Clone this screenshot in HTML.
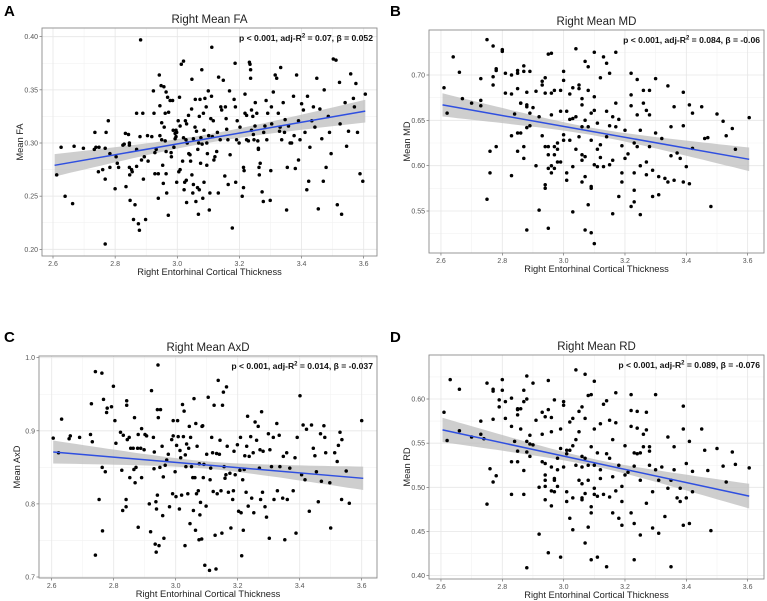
<!DOCTYPE html>
<html><head><meta charset="utf-8"><style>
body{margin:0;background:#fff}
svg{display:block;font-family:"Liberation Sans",Arial,sans-serif}
</style></head><body>
<svg id="fig" width="767" height="601" viewBox="0 0 767 601"></svg>
<script>
// ---------- data ----------
const xTicks = [2.6, 2.8, 3.0, 3.2, 3.4, 3.6];
const xTickLabels = ["2.6","2.8","3.0","3.2","3.4","3.6"];
const yTicksA = [0.20,0.25,0.30,0.35,0.40];
const yTickLabelsA = ["0.20","0.25","0.30","0.35","0.40"];
const yTicksB = [0.55,0.60,0.65,0.70];
const yTickLabelsB = ["0.55","0.60","0.65","0.70"];
const yTicksC = [0.7,0.8,0.9,1.0];
const yTickLabelsC = ["0.7","0.8","0.9","1.0"];
const yTicksD = [0.40,0.45,0.50,0.55,0.60];
const yTickLabelsD = ["0.40","0.45","0.50","0.55","0.60"];

const fitA = [0.279, 0.330]; const bandA = [0.0107, 0.004];
const fitB = [0.667, 0.607]; const bandB = [0.013, 0.004];
const fitC = [0.871, 0.835]; const bandC = [0.016, 0.005];
const fitD = [0.565, 0.490]; const bandD = [0.014, 0.004];

const ptsA = [[2.612,0.270],[2.626,0.296],[2.639,0.250],[2.663,0.243],[2.668,0.297],[2.698,0.295],[2.735,0.310],[2.733,0.294],[2.738,0.296],[2.748,0.296],[2.746,0.273],[2.760,0.275],[2.768,0.295],[2.771,0.310],[2.768,0.266],[2.768,0.205],[2.778,0.321],[2.783,0.290],[2.783,0.277],[2.800,0.257],[2.803,0.287],[2.807,0.281],[2.811,0.277],[2.825,0.298],[2.829,0.299],[2.833,0.309],[2.835,0.259],[2.843,0.308],[2.846,0.300],[2.846,0.298],[2.846,0.277],[2.847,0.270],[2.848,0.246],[2.853,0.275],[2.855,0.273],[2.859,0.228],[2.864,0.242],[2.869,0.328],[2.869,0.294],[2.869,0.278],[2.875,0.224],[2.878,0.218],[2.880,0.306],[2.882,0.397],[2.885,0.284],[2.889,0.328],[2.891,0.266],[2.894,0.287],[2.898,0.228],[2.904,0.307],[2.906,0.283],[2.918,0.306],[2.923,0.349],[2.925,0.328],[2.928,0.291],[2.932,0.294],[2.928,0.271],[2.939,0.271],[2.939,0.248],[2.942,0.364],[2.944,0.307],[2.944,0.335],[2.948,0.354],[2.950,0.319],[2.950,0.303],[2.953,0.279],[2.955,0.262],[2.957,0.353],[2.958,0.315],[2.961,0.328],[2.961,0.302],[2.964,0.271],[2.964,0.292],[2.964,0.348],[2.966,0.253],[2.969,0.343],[2.971,0.232],[2.972,0.329],[2.977,0.340],[2.980,0.291],[2.981,0.287],[2.985,0.340],[2.987,0.312],[2.989,0.296],[2.993,0.309],[2.993,0.304],[2.996,0.306],[2.996,0.312],[2.998,0.310],[2.998,0.263],[3.003,0.321],[3.005,0.273],[3.007,0.343],[3.009,0.275],[3.009,0.316],[3.013,0.374],[3.017,0.283],[3.020,0.377],[3.020,0.305],[3.022,0.256],[3.024,0.263],[3.026,0.321],[3.028,0.303],[3.029,0.265],[3.030,0.318],[3.030,0.244],[3.032,0.300],[3.036,0.326],[3.037,0.290],[3.041,0.289],[3.043,0.283],[3.046,0.332],[3.047,0.270],[3.047,0.360],[3.050,0.253],[3.052,0.261],[3.052,0.304],[3.057,0.315],[3.058,0.341],[3.060,0.245],[3.062,0.311],[3.065,0.258],[3.066,0.294],[3.068,0.233],[3.069,0.300],[3.071,0.325],[3.071,0.256],[3.073,0.341],[3.075,0.281],[3.076,0.305],[3.079,0.369],[3.080,0.299],[3.082,0.248],[3.084,0.328],[3.086,0.312],[3.086,0.263],[3.089,0.342],[3.093,0.334],[3.095,0.300],[3.095,0.279],[3.097,0.290],[3.100,0.349],[3.101,0.307],[3.103,0.237],[3.105,0.253],[3.108,0.323],[3.110,0.344],[3.111,0.390],[3.113,0.306],[3.116,0.321],[3.118,0.284],[3.121,0.287],[3.127,0.292],[3.129,0.310],[3.132,0.253],[3.133,0.362],[3.138,0.303],[3.140,0.334],[3.143,0.331],[3.148,0.359],[3.153,0.269],[3.155,0.334],[3.157,0.323],[3.159,0.313],[3.163,0.303],[3.164,0.261],[3.168,0.349],[3.170,0.289],[3.177,0.220],[3.183,0.341],[3.186,0.375],[3.187,0.334],[3.188,0.263],[3.191,0.303],[3.193,0.321],[3.199,0.300],[3.202,0.315],[3.209,0.250],[3.213,0.258],[3.213,0.277],[3.215,0.274],[3.218,0.328],[3.218,0.346],[3.223,0.326],[3.223,0.303],[3.229,0.302],[3.232,0.376],[3.234,0.374],[3.236,0.369],[3.236,0.361],[3.239,0.331],[3.239,0.312],[3.243,0.325],[3.245,0.308],[3.247,0.303],[3.250,0.316],[3.251,0.338],[3.256,0.328],[3.259,0.302],[3.261,0.295],[3.261,0.294],[3.263,0.277],[3.264,0.270],[3.267,0.281],[3.273,0.254],[3.277,0.245],[3.278,0.310],[3.282,0.316],[3.286,0.340],[3.288,0.303],[3.291,0.328],[3.299,0.246],[3.301,0.274],[3.303,0.334],[3.304,0.318],[3.309,0.348],[3.315,0.364],[3.320,0.361],[3.325,0.328],[3.329,0.311],[3.331,0.315],[3.333,0.371],[3.336,0.303],[3.341,0.338],[3.345,0.310],[3.347,0.322],[3.352,0.237],[3.354,0.277],[3.358,0.316],[3.363,0.300],[3.368,0.300],[3.374,0.344],[3.376,0.307],[3.380,0.276],[3.384,0.364],[3.390,0.284],[3.390,0.321],[3.395,0.303],[3.400,0.337],[3.406,0.331],[3.411,0.310],[3.417,0.256],[3.419,0.344],[3.423,0.264],[3.427,0.296],[3.433,0.321],[3.438,0.334],[3.443,0.315],[3.449,0.361],[3.454,0.238],[3.459,0.332],[3.465,0.304],[3.470,0.264],[3.473,0.350],[3.479,0.277],[3.486,0.325],[3.490,0.310],[3.495,0.290],[3.502,0.379],[3.511,0.378],[3.515,0.242],[3.522,0.357],[3.524,0.318],[3.529,0.233],[3.540,0.338],[3.545,0.297],[3.551,0.311],[3.558,0.365],[3.567,0.342],[3.570,0.334],[3.575,0.356],[3.580,0.310],[3.588,0.271],[3.597,0.264],[3.605,0.346]];

const ptsB = [[2.61,0.686],[2.62,0.658],[2.64,0.720],[2.66,0.703],[2.67,0.674],[2.70,0.669],[2.73,0.672],[2.73,0.696],[2.73,0.666],[2.75,0.739],[2.75,0.563],[2.76,0.616],[2.76,0.592],[2.77,0.732],[2.77,0.689],[2.77,0.698],[2.78,0.621],[2.78,0.707],[2.78,0.705],[2.80,0.726],[2.80,0.728],[2.81,0.702],[2.81,0.680],[2.83,0.679],[2.83,0.633],[2.83,0.589],[2.83,0.700],[2.84,0.657],[2.85,0.616],[2.85,0.636],[2.85,0.705],[2.85,0.702],[2.85,0.685],[2.86,0.669],[2.86,0.669],[2.86,0.636],[2.87,0.621],[2.87,0.608],[2.87,0.704],[2.87,0.710],[2.88,0.681],[2.88,0.667],[2.88,0.529],[2.88,0.642],[2.88,0.665],[2.89,0.644],[2.89,0.658],[2.89,0.704],[2.90,0.664],[2.91,0.682],[2.91,0.600],[2.92,0.654],[2.92,0.551],[2.93,0.693],[2.93,0.689],[2.93,0.633],[2.94,0.575],[2.94,0.579],[2.94,0.697],[2.94,0.621],[2.94,0.680],[2.95,0.597],[2.95,0.612],[2.95,0.723],[2.95,0.531],[2.95,0.621],[2.96,0.724],[2.96,0.656],[2.96,0.600],[2.96,0.680],[2.96,0.592],[2.97,0.621],[2.97,0.597],[2.97,0.683],[2.97,0.612],[2.98,0.618],[2.98,0.625],[2.98,0.604],[2.99,0.683],[2.99,0.604],[2.99,0.660],[3.00,0.628],[3.00,0.634],[3.00,0.704],[3.00,0.694],[3.01,0.660],[3.01,0.584],[3.01,0.592],[3.02,0.651],[3.02,0.628],[3.02,0.679],[3.03,0.686],[3.03,0.652],[3.03,0.549],[3.03,0.599],[3.04,0.729],[3.04,0.618],[3.04,0.654],[3.05,0.632],[3.05,0.685],[3.05,0.689],[3.06,0.667],[3.06,0.643],[3.06,0.612],[3.06,0.582],[3.06,0.674],[3.06,0.606],[3.07,0.650],[3.07,0.610],[3.07,0.715],[3.07,0.529],[3.07,0.588],[3.08,0.709],[3.08,0.557],[3.08,0.643],[3.08,0.683],[3.09,0.658],[3.09,0.526],[3.09,0.577],[3.09,0.628],[3.09,0.575],[3.10,0.725],[3.10,0.661],[3.10,0.601],[3.10,0.676],[3.10,0.514],[3.11,0.599],[3.11,0.618],[3.11,0.647],[3.12,0.697],[3.12,0.623],[3.12,0.609],[3.13,0.599],[3.13,0.720],[3.14,0.632],[3.14,0.660],[3.14,0.713],[3.15,0.702],[3.15,0.644],[3.15,0.601],[3.16,0.547],[3.16,0.606],[3.16,0.654],[3.17,0.725],[3.17,0.643],[3.17,0.669],[3.18,0.651],[3.18,0.566],[3.19,0.622],[3.19,0.592],[3.19,0.582],[3.20,0.639],[3.20,0.608],[3.21,0.613],[3.22,0.678],[3.22,0.666],[3.22,0.702],[3.22,0.555],[3.23,0.625],[3.23,0.592],[3.23,0.560],[3.23,0.573],[3.24,0.621],[3.24,0.656],[3.24,0.695],[3.25,0.546],[3.25,0.600],[3.25,0.639],[3.26,0.669],[3.26,0.683],[3.27,0.590],[3.27,0.661],[3.27,0.604],[3.28,0.683],[3.28,0.656],[3.28,0.621],[3.29,0.595],[3.29,0.566],[3.30,0.636],[3.30,0.696],[3.31,0.588],[3.31,0.568],[3.32,0.630],[3.33,0.586],[3.34,0.582],[3.34,0.688],[3.35,0.643],[3.35,0.611],[3.36,0.665],[3.36,0.584],[3.37,0.614],[3.38,0.608],[3.39,0.681],[3.39,0.582],[3.39,0.644],[3.40,0.599],[3.41,0.667],[3.41,0.580],[3.42,0.658],[3.42,0.619],[3.45,0.665],[3.46,0.630],[3.47,0.631],[3.48,0.555],[3.50,0.657],[3.52,0.649],[3.53,0.633],[3.55,0.641],[3.56,0.618],[3.605,0.653]];

const ptsC = [[2.605,0.890],[2.622,0.870],[2.632,0.916],[2.656,0.889],[2.660,0.893],[2.690,0.891],[2.725,0.895],[2.728,0.937],[2.731,0.885],[2.741,0.981],[2.741,0.730],[2.753,0.806],[2.762,0.979],[2.763,0.850],[2.764,0.763],[2.767,0.943],[2.773,0.844],[2.777,0.925],[2.779,0.931],[2.793,0.933],[2.799,0.961],[2.804,0.914],[2.807,0.883],[2.822,0.898],[2.826,0.846],[2.829,0.791],[2.831,0.894],[2.840,0.796],[2.840,0.806],[2.842,0.941],[2.842,0.935],[2.844,0.888],[2.850,0.891],[2.852,0.836],[2.855,0.876],[2.863,0.876],[2.865,0.847],[2.867,0.918],[2.869,0.829],[2.872,0.850],[2.877,0.876],[2.879,0.768],[2.879,0.895],[2.887,0.876],[2.890,0.903],[2.890,0.836],[2.898,0.874],[2.901,0.895],[2.906,0.893],[2.915,0.800],[2.919,0.762],[2.922,0.955],[2.928,0.891],[2.930,0.848],[2.931,0.871],[2.934,0.745],[2.936,0.803],[2.937,0.734],[2.938,0.793],[2.941,0.929],[2.941,0.812],[2.943,0.990],[2.944,0.918],[2.946,0.743],[2.949,0.850],[2.951,0.929],[2.956,0.879],[2.958,0.784],[2.960,0.837],[2.962,0.753],[2.966,0.853],[2.971,0.860],[2.976,0.868],[2.980,0.796],[2.987,0.888],[2.990,0.814],[2.992,0.893],[2.992,0.914],[2.998,0.844],[3.001,0.810],[3.003,0.880],[3.006,0.914],[3.008,0.892],[3.012,0.793],[3.014,0.873],[3.016,0.863],[3.019,0.812],[3.022,0.936],[3.025,0.892],[3.027,0.927],[3.030,0.743],[3.031,0.867],[3.033,0.851],[3.035,0.882],[3.039,0.814],[3.042,0.876],[3.044,0.906],[3.046,0.773],[3.048,0.891],[3.051,0.851],[3.055,0.836],[3.057,0.791],[3.059,0.944],[3.062,0.836],[3.064,0.764],[3.065,0.910],[3.067,0.814],[3.069,0.879],[3.073,0.818],[3.075,0.751],[3.076,0.855],[3.078,0.785],[3.080,0.802],[3.084,0.752],[3.085,0.906],[3.087,0.907],[3.089,0.836],[3.091,0.854],[3.094,0.716],[3.098,0.797],[3.100,0.868],[3.105,0.946],[3.109,0.709],[3.111,0.833],[3.113,0.849],[3.116,0.891],[3.119,0.870],[3.121,0.817],[3.124,0.935],[3.127,0.757],[3.130,0.711],[3.132,0.869],[3.134,0.814],[3.137,0.969],[3.141,0.868],[3.143,0.887],[3.146,0.818],[3.149,0.760],[3.151,0.935],[3.154,0.953],[3.156,0.851],[3.159,0.835],[3.162,0.840],[3.164,0.960],[3.166,0.879],[3.170,0.816],[3.175,0.842],[3.178,0.767],[3.184,0.806],[3.186,0.818],[3.188,0.872],[3.192,0.840],[3.199,0.881],[3.203,0.790],[3.207,0.846],[3.209,0.891],[3.211,0.788],[3.213,0.729],[3.216,0.833],[3.218,0.764],[3.221,0.847],[3.223,0.866],[3.227,0.816],[3.229,0.879],[3.232,0.920],[3.234,0.797],[3.237,0.865],[3.242,0.892],[3.245,0.808],[3.250,0.870],[3.252,0.788],[3.256,0.912],[3.261,0.887],[3.266,0.906],[3.270,0.849],[3.272,0.874],[3.274,0.806],[3.277,0.926],[3.280,0.816],[3.282,0.872],[3.288,0.796],[3.293,0.782],[3.299,0.896],[3.302,0.753],[3.304,0.874],[3.309,0.851],[3.315,0.891],[3.317,0.806],[3.326,0.910],[3.328,0.818],[3.334,0.894],[3.336,0.851],[3.345,0.808],[3.347,0.865],[3.352,0.751],[3.358,0.870],[3.360,0.806],[3.368,0.849],[3.379,0.818],[3.385,0.863],[3.388,0.760],[3.392,0.891],[3.401,0.948],[3.406,0.840],[3.411,0.908],[3.417,0.833],[3.422,0.902],[3.431,0.790],[3.438,0.908],[3.444,0.876],[3.449,0.866],[3.454,0.844],[3.460,0.803],[3.467,0.896],[3.470,0.831],[3.478,0.907],[3.481,0.891],[3.484,0.870],[3.497,0.829],[3.513,0.870],[3.521,0.858],[3.535,0.806],[3.500,0.767],[3.525,0.880],[3.530,0.898],[3.536,0.888],[3.550,0.845],[3.560,0.801],[3.600,0.914]];

const ptsD = [[2.61,0.585],[2.62,0.553],[2.63,0.622],[2.66,0.611],[2.66,0.564],[2.70,0.557],[2.73,0.560],[2.73,0.575],[2.74,0.555],[2.75,0.618],[2.75,0.481],[2.76,0.521],[2.77,0.506],[2.77,0.611],[2.77,0.609],[2.77,0.577],[2.78,0.513],[2.79,0.599],[2.79,0.591],[2.80,0.622],[2.80,0.610],[2.81,0.597],[2.81,0.578],[2.83,0.569],[2.83,0.529],[2.83,0.492],[2.83,0.601],[2.84,0.552],[2.85,0.529],[2.85,0.541],[2.85,0.589],[2.85,0.588],[2.85,0.582],[2.86,0.566],[2.86,0.589],[2.87,0.610],[2.87,0.519],[2.87,0.492],[2.87,0.597],[2.88,0.626],[2.88,0.600],[2.88,0.552],[2.88,0.409],[2.88,0.540],[2.89,0.559],[2.89,0.535],[2.89,0.549],[2.90,0.618],[2.90,0.548],[2.91,0.576],[2.92,0.500],[2.92,0.447],[2.93,0.560],[2.93,0.585],[2.93,0.529],[2.94,0.508],[2.94,0.527],[2.94,0.514],[2.94,0.501],[2.94,0.580],[2.94,0.486],[2.95,0.588],[2.95,0.426],[2.95,0.621],[2.96,0.563],[2.96,0.496],[2.96,0.479],[2.96,0.579],[2.96,0.523],[2.97,0.510],[2.97,0.495],[2.97,0.599],[2.97,0.508],[2.98,0.520],[2.98,0.533],[2.98,0.501],[2.99,0.544],[2.99,0.566],[2.99,0.421],[3.00,0.523],[3.00,0.597],[3.00,0.593],[3.01,0.542],[3.01,0.484],[3.01,0.538],[3.01,0.495],[3.02,0.465],[3.02,0.542],[3.02,0.574],[3.03,0.578],[3.03,0.547],[3.03,0.488],[3.03,0.452],[3.04,0.633],[3.04,0.525],[3.04,0.554],[3.05,0.508],[3.05,0.563],[3.05,0.586],[3.06,0.535],[3.06,0.488],[3.06,0.523],[3.06,0.504],[3.06,0.591],[3.06,0.486],[3.07,0.533],[3.07,0.493],[3.07,0.628],[3.07,0.437],[3.07,0.578],[3.08,0.604],[3.08,0.455],[3.08,0.525],[3.08,0.508],[3.09,0.605],[3.09,0.418],[3.09,0.478],[3.09,0.546],[3.09,0.471],[3.10,0.620],[3.10,0.499],[3.10,0.566],[3.10,0.525],[3.10,0.492],[3.11,0.421],[3.11,0.490],[3.11,0.539],[3.12,0.572],[3.12,0.520],[3.12,0.510],[3.13,0.492],[3.13,0.594],[3.14,0.538],[3.14,0.410],[3.14,0.598],[3.15,0.576],[3.15,0.533],[3.15,0.489],[3.16,0.471],[3.16,0.554],[3.16,0.512],[3.17,0.607],[3.17,0.573],[3.17,0.496],[3.18,0.525],[3.18,0.465],[3.19,0.484],[3.19,0.501],[3.19,0.457],[3.20,0.547],[3.20,0.514],[3.21,0.517],[3.22,0.587],[3.22,0.569],[3.22,0.605],[3.22,0.471],[3.23,0.524],[3.23,0.539],[3.23,0.459],[3.23,0.418],[3.24,0.538],[3.24,0.567],[3.24,0.586],[3.25,0.446],[3.25,0.508],[3.25,0.539],[3.26,0.560],[3.26,0.546],[3.27,0.482],[3.27,0.565],[3.27,0.585],[3.28,0.541],[3.28,0.546],[3.28,0.525],[3.29,0.495],[3.29,0.454],[3.30,0.520],[3.30,0.605],[3.31,0.508],[3.31,0.448],[3.32,0.523],[3.33,0.467],[3.34,0.499],[3.34,0.557],[3.35,0.410],[3.35,0.508],[3.36,0.520],[3.36,0.546],[3.37,0.488],[3.38,0.499],[3.38,0.484],[3.39,0.592],[3.39,0.457],[3.39,0.566],[3.40,0.488],[3.40,0.527],[3.41,0.552],[3.41,0.459],[3.42,0.518],[3.42,0.495],[3.45,0.566],[3.46,0.542],[3.47,0.519],[3.48,0.451],[3.50,0.544],[3.52,0.524],[3.53,0.506],[3.55,0.540],[3.56,0.526],[3.605,0.522]];

// ---------- drawing ----------
const NS = "http://www.w3.org/2000/svg";
const svg = document.getElementById("fig");
function mk(tag, attrs, parent){
  const e = document.createElementNS(NS, tag);
  for (const k in attrs) e.setAttribute(k, attrs[k]);
  (parent||svg).appendChild(e);
  return e;
}

const panels = [
  {id:"a", letter:"A", title:"Right Mean FA", ylab:"Mean FA", pts:ptsA, yt:yTicksA, ytl:yTickLabelsA, fit:fitA, band:bandA,
   r:[42,28,377,256], x0:[2.6,53], xs:310.7, y0:[0.40,36.7], ys:1063, ann:["0.07","0.052"], lx:4, ly:16},
  {id:"b", letter:"B", title:"Right Mean MD", ylab:"Mean MD", pts:ptsB, yt:yTicksB, ytl:yTickLabelsB, fit:fitB, band:bandB,
   r:[429,30,764,253], x0:[2.8,502.3], xs:306.7, y0:[0.70,75], ys:906.7, ann:["0.084","-0.06"], lx:390, ly:16},
  {id:"c", letter:"C", title:"Right Mean AxD", ylab:"Mean AxD", pts:ptsC, yt:yTicksC, ytl:yTickLabelsC, fit:fitC, band:bandC,
   r:[39,356,377,578], x0:[2.6,51.7], xs:310, y0:[1.0,357.7], ys:731, ann:["0.014","-0.037"], lx:4, ly:342},
  {id:"d", letter:"D", title:"Right Mean RD", ylab:"Mean RD", pts:ptsD, yt:yTicksD, ytl:yTickLabelsD, fit:fitD, band:bandD,
   r:[429,355,764,579], x0:[2.8,502.3], xs:306.7, y0:[0.60,399], ys:883.3, ann:["0.089","-0.076"], lx:390, ly:342}
];

panels.forEach(p => {
  const g = mk("g", {});
  
  
  const X = v => p.x0[1] + (v - p.x0[0]) * p.xs;
  const Y = v => p.y0[1] - (v - p.y0[0]) * p.ys;
  const [L,T,R,B] = p.r;

  const lab = mk("text", {x:p.lx, y:p.ly, "font-size":15, "font-weight":"bold", fill:"#000"}, g);
  lab.textContent = p.letter;
  
  

  const tt = mk("text", {x:(L+R)/2, y:T-5, "font-size":11.5, "text-anchor":"middle", fill:"#222"}, g);
  tt.textContent = p.title;
  
  

  for (let i=0;i<xTicks.length-1;i++){
    const xm = X((xTicks[i]+xTicks[i+1])/2);
    mk("line",{x1:xm,x2:xm,y1:T,y2:B,stroke:"#f2f2f2","stroke-width":0.6},g);
  }
  for (let i=0;i<p.yt.length-1;i++){
    const ym = Y((p.yt[i]+p.yt[i+1])/2);
    mk("line",{x1:L,x2:R,y1:ym,y2:ym,stroke:"#f2f2f2","stroke-width":0.6},g);
  }
  const yHalf = p.yt[1]-p.yt[0];
  if (Y(p.yt[p.yt.length-1]+yHalf/2) > T) { const ym=Y(p.yt[p.yt.length-1]+yHalf/2); mk("line",{x1:L,x2:R,y1:ym,y2:ym,stroke:"#f2f2f2","stroke-width":0.6},g); }
  if (Y(p.yt[0]-yHalf/2) < B) { const ym=Y(p.yt[0]-yHalf/2); mk("line",{x1:L,x2:R,y1:ym,y2:ym,stroke:"#f2f2f2","stroke-width":0.6},g); }

  xTicks.forEach((v,i) => {
    const x = X(v);
    mk("line",{x1:x,x2:x,y1:T,y2:B,stroke:"#e6e6e6","stroke-width":0.8},g);
    mk("line",{x1:x,x2:x,y1:B,y2:B+2.5,stroke:"#555","stroke-width":0.6},g);
    const t = mk("text",{x:x,y:B+10,"font-size":7,"text-anchor":"middle",fill:"#555"},g);
    t.textContent = xTickLabels[i];
    
    
  });
  p.yt.forEach((v,i) => {
    const y = Y(v);
    mk("line",{x1:L,x2:R,y1:y,y2:y,stroke:"#e6e6e6","stroke-width":0.8},g);
    mk("line",{x1:L-2.5,x2:L,y1:y,y2:y,stroke:"#555","stroke-width":0.6},g);
    const t = mk("text",{x:L-4,y:y+2.5,"font-size":7,"text-anchor":"end",fill:"#555"},g);
    t.textContent = p.ytl[i];
    
    
  });

  const xa = 2.605, xb = 3.605, xm = 3.10, md = 0.505;
  const N = 40; let up = [], lo = [];
  for (let i=0;i<=N;i++){
    const xv = xa + (xb-xa)*i/N;
    const yv = p.fit[0] + (p.fit[1]-p.fit[0])*(xv-xa)/(xb-xa);
    const f = (xv-xm)/md;
    const hw = Math.sqrt(p.band[1]*p.band[1] + (p.band[0]*p.band[0]-p.band[1]*p.band[1])*f*f);
    up.push(X(xv).toFixed(1)+","+Y(yv+hw).toFixed(1));
    lo.unshift(X(xv).toFixed(1)+","+Y(yv-hw).toFixed(1));
  }
  const band = mk("polygon",{points:up.concat(lo).join(" "),fill:"#bebebe","fill-opacity":0.75},g);
  
  

  p.pts.forEach(d => {
    const c = mk("circle",{cx:X(d[0]).toFixed(1),cy:Y(d[1]).toFixed(1),r:1.75,fill:"#000"},g);
    
    
  });

  const ln = mk("line",{x1:X(xa),y1:Y(p.fit[0]),x2:X(xb),y2:Y(p.fit[1]),stroke:"#2f4fe0","stroke-width":1.5},g);
  
  

  const bd = mk("rect",{x:L,y:T,width:R-L,height:B-T,fill:"none",stroke:"#8c8c8c","stroke-width":0.9},g);
  
  

  const an = mk("text",{x:R-4,y:T+13,"font-size":8.6,"font-weight":"bold","text-anchor":"end",fill:"#111"},g);
  
  
  const s1 = mk("tspan",{},an); s1.textContent = "p < 0.001, adj-R";
  const s2 = mk("tspan",{dy:-3.5,"font-size":6},an); s2.textContent = "2";
  const s3 = mk("tspan",{dy:3.5},an); s3.textContent = " = " + p.ann[0] + ", \u03B2 = " + p.ann[1];

  const xl = mk("text",{x:(L+R)/2,y:B+19,"font-size":9.3,"text-anchor":"middle",fill:"#222"},g);
  xl.textContent = "Right Entorhinal Cortical Thickness";
  
  

  const cy = (T+B)/2, cx = L-19;
  const yl = mk("text",{x:cx,y:cy,"font-size":9.3,"text-anchor":"middle",fill:"#222",transform:`rotate(-90 ${cx} ${cy})`},g);
  yl.textContent = p.ylab;
  
  
});
</script>
</body></html>
